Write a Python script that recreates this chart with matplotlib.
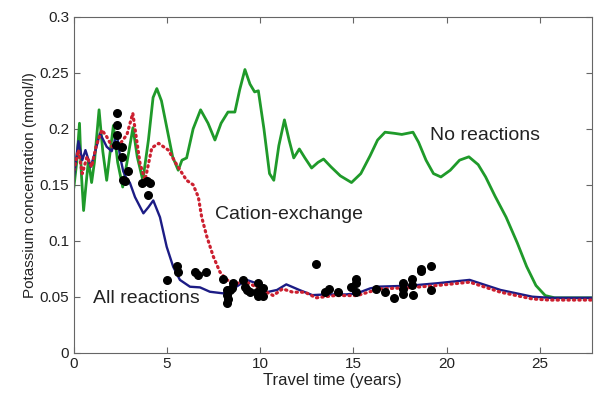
import numpy as np
import matplotlib.pyplot as plt

plt.rcParams['font.family'] = ['Liberation Sans', 'DejaVu Sans']

# No reactions (green)
t_none = [0, 0.15, 0.3, 0.4, 0.52, 0.65, 0.78, 0.95, 1.1, 1.35, 1.55, 1.76, 1.95,
          2.12, 2.35, 2.62, 2.9, 3.17, 3.4, 3.7, 4.0, 4.25, 4.45, 4.7, 5.0, 5.3,
          5.6, 5.8, 6.05, 6.4, 6.8, 7.2, 7.57, 7.9, 8.27, 8.64, 8.9, 9.18, 9.45,
          9.7, 9.9, 10.2, 10.5, 10.73, 11.0, 11.3, 11.55, 11.8, 12.1, 12.4, 12.76,
          13.1, 13.4, 13.8, 14.3, 14.9, 15.4, 15.9, 16.3, 16.7, 17.2, 17.6, 18.2,
          18.5, 18.9, 19.3, 19.7, 20.2, 20.7, 21.2, 21.7, 22.1, 22.6, 23.2, 23.8,
          24.3, 24.8, 25.3, 25.8, 27.8]
k_none = [0.148, 0.17, 0.205, 0.16, 0.127, 0.15, 0.172, 0.152, 0.17, 0.217, 0.18,
          0.154, 0.18, 0.203, 0.17, 0.148, 0.175, 0.201, 0.175, 0.154, 0.19, 0.228,
          0.236, 0.225, 0.2, 0.175, 0.163, 0.172, 0.174, 0.2, 0.217, 0.205, 0.19,
          0.205, 0.215, 0.215, 0.235, 0.253, 0.24, 0.233, 0.234, 0.2, 0.16, 0.154,
          0.185, 0.208, 0.19, 0.174, 0.182, 0.174, 0.165, 0.17, 0.173, 0.166, 0.158,
          0.152, 0.16, 0.176, 0.19, 0.197, 0.196, 0.195, 0.197, 0.188, 0.172, 0.16,
          0.157, 0.163, 0.172, 0.175, 0.168, 0.157, 0.14, 0.121, 0.098, 0.077, 0.06,
          0.051, 0.049, 0.049]

# Cation-exchange (red dotted)
t_cat = [0, 0.24, 0.45, 0.7, 0.95, 1.2, 1.5, 1.76, 2.05, 2.5, 2.85, 3.16, 3.55,
         3.82, 4.18, 4.55, 5.07, 5.55, 6.05, 6.4, 6.68, 6.86, 7.13, 7.48, 7.84,
         8.2, 8.73, 9.27, 10.0, 10.7, 11.2, 11.75, 12.4, 13.0, 14.0, 15.2, 16.4,
         18.0, 19.5, 21.24, 22.9, 24.6, 25.5, 27.8]
k_cat = [0.163, 0.181, 0.16, 0.175, 0.166, 0.185, 0.199, 0.193, 0.184, 0.187,
         0.195, 0.214, 0.169, 0.154, 0.183, 0.187, 0.181, 0.167, 0.154, 0.15,
         0.139, 0.121, 0.104, 0.086, 0.072, 0.065, 0.062, 0.063, 0.057, 0.051,
         0.057, 0.054, 0.054, 0.049, 0.051, 0.051, 0.057, 0.058, 0.06, 0.063,
         0.054, 0.048, 0.047, 0.047]

# All reactions (blue)
t_all = [0, 0.24, 0.45, 0.62, 0.9, 1.15, 1.4, 1.76, 2.03, 2.3, 2.48, 2.65, 2.84,
         3.0, 3.28, 3.73, 4.0, 4.26, 4.62, 4.98, 5.33, 5.69, 6.23, 6.77, 7.3,
         8.0, 8.73, 9.27, 9.8, 10.34, 10.9, 11.4, 12.1, 12.8, 13.5, 14.6, 15.2,
         15.9, 16.4, 18.0, 19.5, 21.24, 22.9, 24.6, 25.5, 27.8]
k_all = [0.157, 0.189, 0.172, 0.181, 0.166, 0.18, 0.196, 0.184, 0.18, 0.196,
         0.175, 0.162, 0.155, 0.152, 0.139, 0.1245, 0.13, 0.136, 0.121, 0.0946,
         0.0767, 0.065, 0.0589, 0.0583, 0.0544, 0.053, 0.059, 0.065, 0.062, 0.054,
         0.056, 0.061, 0.056, 0.0514, 0.052, 0.052, 0.053, 0.0574, 0.059, 0.0598,
         0.062, 0.065, 0.056, 0.05, 0.049, 0.049]

# measured values (black dots)
t_obs = [2.3, 2.33, 2.33, 2.25, 2.57, 2.57, 2.92, 2.65, 2.75, 3.64, 3.9, 4.09, 4.0,
         4.98, 5.52, 5.6, 6.5, 6.68, 7.07, 8.02, 8.2, 8.2, 8.2, 8.25, 8.38, 8.47,
         8.55, 9.09, 9.18, 9.27, 9.45, 9.85, 9.9, 9.9, 10.0, 10.16, 10.16, 12.99,
         13.47, 13.7, 14.18, 14.9, 15.13, 15.13, 15.13, 16.2, 16.69, 17.2, 17.67,
         17.67, 17.67, 18.15, 18.15, 18.2, 18.65, 18.65, 19.19, 19.19]
k_obs = [0.214, 0.2035, 0.1945, 0.1856, 0.184, 0.175, 0.162, 0.154, 0.153, 0.152,
         0.153, 0.152, 0.141, 0.065, 0.077, 0.072, 0.072, 0.069, 0.072, 0.066,
         0.056, 0.0514, 0.0443, 0.048, 0.056, 0.058, 0.062, 0.065, 0.059, 0.056,
         0.054, 0.054, 0.062, 0.051, 0.053, 0.0505, 0.058, 0.079, 0.0538, 0.0565,
         0.0538, 0.059, 0.066, 0.0625, 0.054, 0.0565, 0.0538, 0.0485, 0.0625,
         0.057, 0.0525, 0.066, 0.06, 0.0514, 0.073, 0.075, 0.077, 0.056]

fig = plt.figure(figsize=(5.96, 3.94), dpi=100)
ax = fig.add_axes([0.124, 0.105, 0.869, 0.852])

ax.plot(t_none, k_none, color='#1f9a2a', lw=2.0, solid_joinstyle='round')
ax.plot(t_all, k_all, color='#1c1c85', lw=1.7, solid_joinstyle='round')
ax.plot(t_cat, k_cat, color='#cc2030', lw=2.3, linestyle=(0, (0.4, 1.3)),
        dash_capstyle='round')
ax.scatter(t_obs, k_obs, s=30, color='black', zorder=5)

ax.text(19.1, 0.194, 'No reactions', fontsize=14, va='center', color='#222222')
ax.text(7.57, 0.123, 'Cation-exchange', fontsize=14, va='center', color='#222222')
ax.text(1.03, 0.0487, 'All reactions', fontsize=14, va='center', color='#222222')

ax.set_xlim(0, 27.8)
ax.set_ylim(0, 0.3)
ax.set_xticks([0, 5, 10, 15, 20, 25])
ax.set_yticks([0, 0.05, 0.1, 0.15, 0.2, 0.25, 0.3])
ax.set_yticklabels(['0', '0.05', '0.1', '0.15', '0.2', '0.25', '0.3'])
ax.tick_params(direction='in', top=True, right=True, length=4, labelsize=11,
               color='#666666', labelcolor='#222222')
for s in ax.spines.values():
    s.set_color('#666666')
ax.set_xlabel('Travel time (years)', fontsize=12, color='#222222', labelpad=1)
ax.set_ylabel('Potassium concentration (mmol/l)', fontsize=11, color='#222222',
              labelpad=2)

fig.savefig('out.png', dpi=100)
